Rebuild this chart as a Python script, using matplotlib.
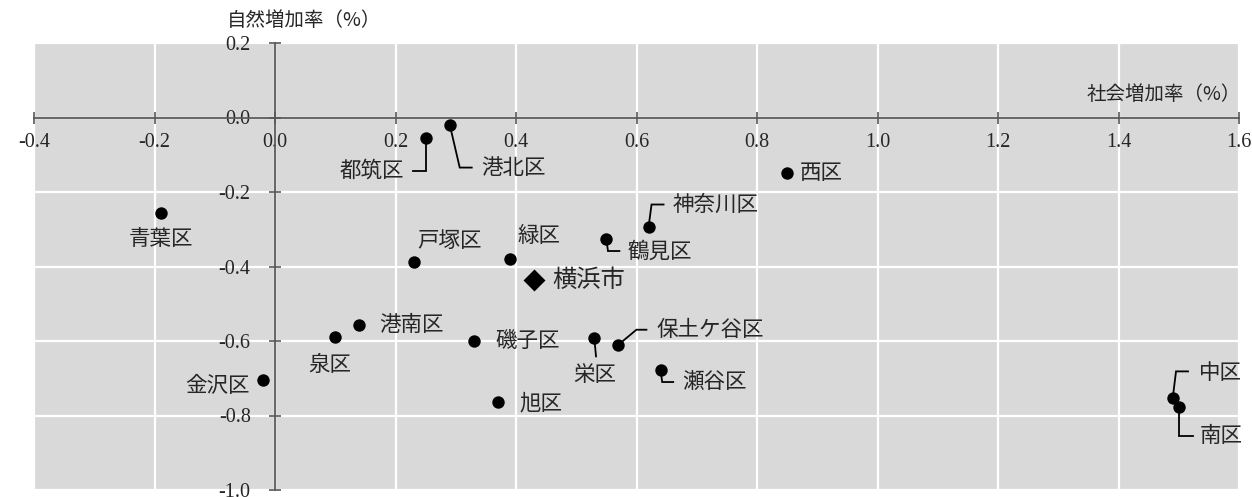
import matplotlib
matplotlib.use("Agg")
import matplotlib.pyplot as plt
from matplotlib.transforms import IdentityTransform, ScaledTranslation
from matplotlib.lines import Line2D

# ---------------- data ----------------
wards = ["都筑区", "港北区", "西区", "神奈川区", "鶴見区", "戸塚区", "緑区",
         "青葉区", "港南区", "泉区", "磯子区", "栄区", "保土ケ谷区", "金沢区",
         "旭区", "瀬谷区", "中区", "南区"]
social_rate = [0.25, 0.29, 0.85, 0.62, 0.55, 0.23, 0.39,
               -0.19, 0.14, 0.10, 0.33, 0.53, 0.57, -0.02,
               0.37, 0.64, 1.49, 1.50]
natural_rate = [-0.054, -0.019, -0.150, -0.294, -0.327, -0.389, -0.380,
                -0.257, -0.557, -0.588, -0.601, -0.593, -0.610, -0.704,
                -0.764, -0.679, -0.753, -0.777]
city_name = "横浜市"
city_social = 0.43
city_natural = -0.436

xticks = [-0.4, -0.2, 0.0, 0.2, 0.4, 0.6, 0.8, 1.0, 1.2, 1.4, 1.6]
xtick_labels = ["-0.4", "-0.2", "0.0", "0.2", "0.4", "0.6", "0.8", "1.0", "1.2", "1.4", "1.6"]
yticks = [0.2, 0.0, -0.2, -0.4, -0.6, -0.8, -1.0]
ytick_labels = ["0.2", "0.0", "-0.2", "-0.4", "-0.6", "-0.8", "-1.0"]
x_title = "社会増加率（%）"
y_title = "自然増加率（%）"

# ---------------- layout (pixel offsets, image y downward) ----------------
label_layout = {
    "都筑区": (-22, 33, "right", [(0, 0), (0, 33), (-13, 33)]),
    "港北区": (32, 43, "left", [(0, 0), (10, 43), (22, 43)]),
    "西区": (13, 0, "left", None),
    "神奈川区": (24, -22, "left", [(0, 0), (3, -22.5), (15, -22.5)]),
    "鶴見区": (21, 12, "left", [(0, 0), (1.6, 11.7), (13, 11.7)]),
    "戸塚区": (4, -21, "left", None),
    "緑区": (7, -23, "left", None),
    "青葉区": (0, 26, "center", None),
    "港南区": (20, 0, "left", None),
    "泉区": (-5, 28, "center", None),
    "磯子区": (22, 1, "left", None),
    "栄区": (1, 37, "center", [(0, 0), (1.7, 18)]),
    "保土ケ谷区": (38, -15, "left", [(0, 0), (18, -15), (28, -15)]),
    "金沢区": (-13, 6, "right", None),
    "旭区": (22, 1, "left", None),
    "瀬谷区": (22, 12, "left", [(0, 0), (1.6, 11.6), (12.6, 11.6)]),
    "中区": (26, -25, "left", [(0, 0), (3.3, -26.6), (15.3, -26.6)]),
    "南区": (21, 29, "left", [(0, 0), (0, 29), (14.3, 29)]),
}

CJK = ["Noto Sans CJK JP", "DejaVu Sans"]
NUM = ["Liberation Serif", "DejaVu Serif"]

W, H = 1252, 497
fig = plt.figure(figsize=(W / 100, H / 100), dpi=100)
ax = fig.add_axes([34 / W, 7 / H, (1239 - 34) / W, (490 - 43) / H])
ax.set_xlim(-0.4, 1.6)
ax.set_ylim(-1.0, 0.2)
ax.set_facecolor("#D9D9D9")

# grid
for xv in xticks:
    ax.axvline(xv, color="white", lw=1.6, zorder=1)
for yv in yticks:
    ax.axhline(yv, color="white", lw=1.6, zorder=1)

# spines crossing at zero
for s in ["top", "right"]:
    ax.spines[s].set_visible(False)
ax.spines["left"].set_position(("data", 0))
ax.spines["bottom"].set_position(("data", 0))
for s in ["left", "bottom"]:
    ax.spines[s].set_color("#595959")
    ax.spines[s].set_linewidth(1.3)
    ax.spines[s].set_zorder(3)

ax.set_xticks(xticks)
ax.set_xticklabels(xtick_labels, family=NUM, fontsize=14.5, color="#262626")
ax.set_yticks(yticks)
ax.set_yticklabels(ytick_labels, family=NUM, fontsize=14.5, color="#262626")
ax.tick_params(axis="x", direction="inout", length=9, width=1.2, color="#595959", pad=7)
ax.tick_params(axis="y", direction="inout", length=9, width=1.2, color="#595959", pad=13)

# points
ax.scatter(social_rate, natural_rate, s=80, color="black", zorder=5, linewidths=0)
ax.scatter([city_social], [city_natural], marker="D", s=125, color="black", zorder=5, linewidths=0)

# labels and leader lines
for name, xv, yv in zip(wards, social_rate, natural_rate):
    dx, dy, ha, leader = label_layout[name]
    ax.annotate(name, (xv, yv), xytext=(dx, -dy), textcoords="offset pixels",
                ha=ha, va="center", family=CJK, fontsize=15.5, color="#262626", zorder=6)
    if leader:
        tr = IdentityTransform() + ScaledTranslation(xv, yv, ax.transData)
        ax.add_line(Line2D([p[0] for p in leader], [-p[1] for p in leader],
                           transform=tr, color="black", lw=1.3, zorder=4,
                           solid_joinstyle="miter", clip_on=False))

ax.annotate(city_name, (city_social, city_natural), xytext=(18, 0), textcoords="offset pixels",
            ha="left", va="center", family=CJK, fontsize=17.5, color="#262626", zorder=6)

fig.text(227 / W, 1 - 20 / H, y_title, family=CJK, fontsize=14, ha="left", va="center", color="#262626")
fig.text(1241 / W, 1 - 95 / H, x_title, family=CJK, fontsize=14, ha="right", va="center", color="#262626")

fig.savefig("out.png", dpi=100)
